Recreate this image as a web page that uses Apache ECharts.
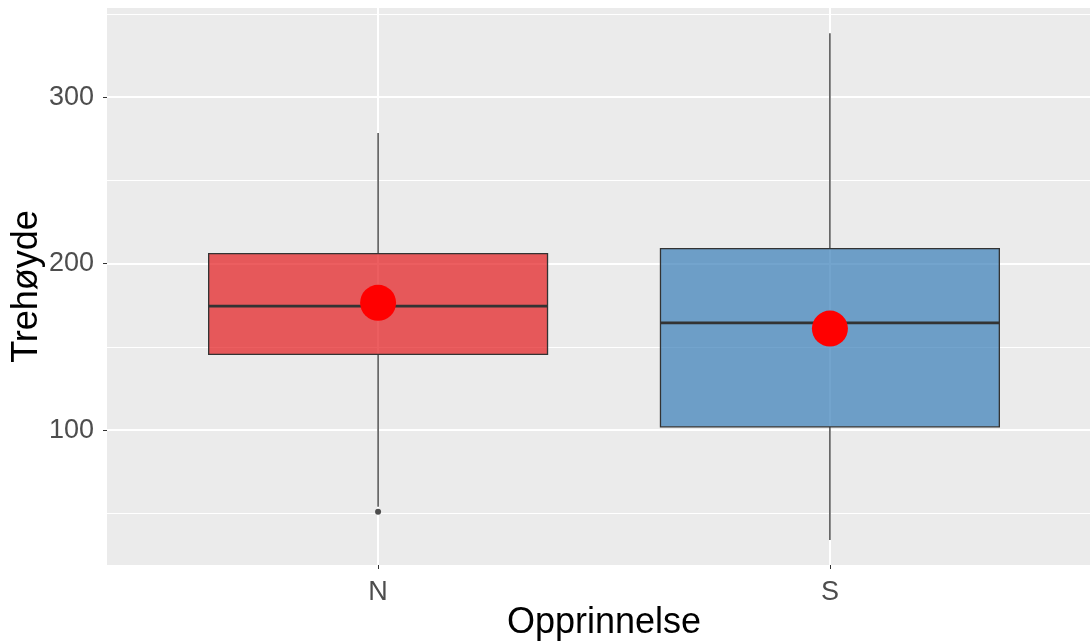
<!DOCTYPE html>
<html>
<head>
<meta charset="utf-8">
<script src="https://cdn.jsdelivr.net/npm/echarts@6/dist/echarts.min.js"></script>
<style>
  html, body { margin: 0; padding: 0; background: #fff; }
  #chart { width: 1090px; height: 642px; }
</style>
</head>
<body>
<div id="chart"></div>
<script>
// data
var categories = ["N", "S"];
// [low whisker, Q1, median, Q3, high whisker]
var boxN = [54, 145.5, 174.5, 206, 278.5];
var boxS = [34, 102, 164.5, 209, 338.5];
var outliersN = [51];
var means = [176.5, 161];
var majorTicks = [100, 200, 300];
var minorTicks = [50, 150, 250, 350];

var boxFill = ["rgba(228,26,28,0.7)", "rgba(55,126,184,0.7)"];
var font = "'Liberation Sans', Arial, sans-serif";

var boxData = [[1].concat(boxN), [2].concat(boxS)];
var outlierData = outliersN.map(function (v) { return [1, v]; });
var meanData = means.map(function (v, i) { return [i + 1, v]; });

function renderBox(params, api) {
  var x = api.value(0);
  var lo = api.coord([x, api.value(1)]);
  var q1 = api.coord([x, api.value(2)]);
  var md = api.coord([x, api.value(3)]);
  var q3 = api.coord([x, api.value(4)]);
  var hi = api.coord([x, api.value(5)]);
  var w = api.size([0.75, 0])[0];
  var left = lo[0] - w / 2;
  var lineStyle = { stroke: "#333333", lineWidth: 1.3 };
  return {
    type: "group",
    children: [
      { type: "line", shape: { x1: hi[0], y1: hi[1], x2: q3[0], y2: q3[1] }, style: lineStyle },
      { type: "line", shape: { x1: q1[0], y1: q1[1], x2: lo[0], y2: lo[1] }, style: lineStyle },
      {
        type: "rect",
        shape: { x: left, y: q3[1], width: w, height: q1[1] - q3[1] },
        style: { fill: boxFill[params.dataIndex], stroke: "#333333", lineWidth: 1.3 }
      },
      {
        type: "line",
        shape: { x1: left, y1: md[1], x2: left + w, y2: md[1] },
        style: { stroke: "#333333", lineWidth: 2.8 }
      }
    ]
  };
}

var chart = echarts.init(document.getElementById("chart"));
chart.setOption({
  animation: false,
  grid: {
    left: 107, right: -11, top: 8, bottom: 77,
    outerBoundsMode: "none",
    containLabel: false,
    show: true, backgroundColor: "#EBEBEB", borderWidth: 0
  },
  xAxis: {
    type: "value",
    min: 0.4, max: 2.6,
    name: "Opprinnelse",
    nameLocation: "middle",
    nameGap: 40,
    nameMoveOverlap: false,
    nameTextStyle: { color: "#000", fontSize: 36, fontFamily: font },
    axisLine: { show: false },
    axisTick: { show: true, length: 4, customValues: [1, 2], lineStyle: { color: "#333333", width: 1 } },
    axisLabel: {
      customValues: [1, 2], margin: 14,
      color: "#4D4D4D", fontSize: 27, fontFamily: font,
      formatter: function (v) { return categories[Math.round(v) - 1]; }
    },
    splitLine: { show: true, lineStyle: { color: "#FFFFFF", width: 2 } }
  },
  yAxis: [
    {
      type: "value",
      min: 19, max: 353.6,
      name: "Trehøyde",
      nameLocation: "middle",
      nameGap: 62,
      nameMoveOverlap: false,
      nameTextStyle: { color: "#000", fontSize: 36, fontFamily: font },
      axisLine: { show: false },
      axisTick: { show: true, length: 4, customValues: majorTicks, lineStyle: { color: "#333333", width: 1 } },
      axisLabel: { customValues: majorTicks, margin: 13, color: "#4D4D4D", fontSize: 27, fontFamily: font },
      splitLine: { show: true, lineStyle: { color: "#FFFFFF", width: 2 } }
    },
    {
      type: "value",
      min: 19, max: 353.6,
      position: "left",
      axisLine: { show: false },
      axisTick: { show: false, customValues: minorTicks },
      axisLabel: { show: false, customValues: minorTicks },
      splitLine: { show: true, lineStyle: { color: "#FFFFFF", width: 1 } }
    }
  ],
  series: [
    {
      type: "custom",
      renderItem: renderBox,
      data: boxData,
      encode: { x: 0, y: [1, 2, 3, 4, 5] },
      z: 2
    },
    {
      type: "scatter",
      data: outlierData,
      symbolSize: 6,
      itemStyle: { color: "#4D4D4D", opacity: 1 },
      z: 3
    },
    {
      type: "scatter",
      data: meanData,
      symbolSize: 36,
      itemStyle: { color: "#FF0000", opacity: 1 },
      z: 4
    }
  ]
});
</script>
</body>
</html>
